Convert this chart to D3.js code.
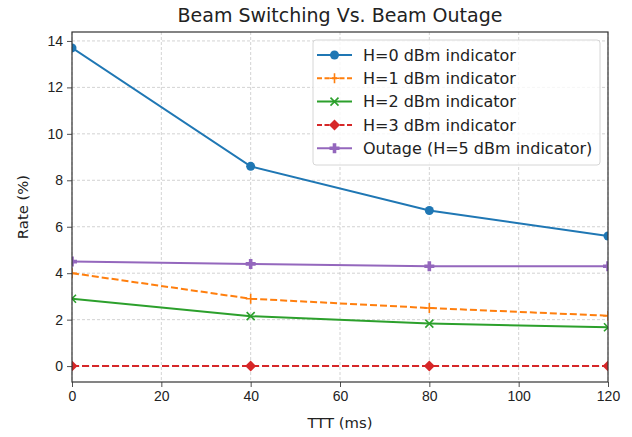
<!DOCTYPE html>
<html lang="en">
<head>
  <meta charset="UTF-8">
  <title>Beam Switching Vs. Beam Outage</title>
  <script src="https://d3js.org/d3.v7.min.js"></script>
  <style>
    body { margin: 0; background: #fff; }
    svg { display: block; font-family: "DejaVu Sans", sans-serif; }
    .tick text { font-size: 14px; fill: #222; }
    .grid line { stroke: #c8c8c8; stroke-width: 0.8px; stroke-dasharray: 3 2; }
  </style>
</head>
<body>
  <svg width="632" height="437"></svg>

  <script>
    // values
    const tttValues = [0, 40, 80, 120];
    const xTicks = [0, 20, 40, 60, 80, 100, 120];
    const yTicks = [0, 2, 4, 6, 8, 10, 12, 14];

    const h0Rate = [13.7, 8.6, 6.7, 5.6];
    const h1Rate = [4.0, 2.9, 2.5, 2.17];
    const h2Rate = [2.9, 2.15, 1.83, 1.67];
    const h3Rate = [0, 0, 0, 0];
    const outageRate = [4.5, 4.4, 4.3, 4.3];

    const seriesNames = ['H=0 dBm indicator', 'H=1 dBm indicator', 'H=2 dBm indicator',
                         'H=3 dBm indicator', 'Outage (H=5 dBm indicator)'];

    const series = [
      { name: seriesNames[0], values: h0Rate, color: '#1f77b4', dash: null, marker: 'circle' },
      { name: seriesNames[1], values: h1Rate, color: '#ff7f0e', dash: '7 3', marker: 'plus' },
      { name: seriesNames[2], values: h2Rate, color: '#2ca02c', dash: null, marker: 'x' },
      { name: seriesNames[3], values: h3Rate, color: '#d62728', dash: '7 3', marker: 'diamond' },
      { name: seriesNames[4], values: outageRate, color: '#9467bd', dash: null, marker: 'fatplus' }
    ];

    const margin = { top: 32, right: 24, bottom: 55, left: 72 };
    const width = 632 - margin.left - margin.right;
    const height = 437 - margin.top - margin.bottom;

    const svg = d3.select('svg');
    const g = svg.append('g').attr('transform', `translate(${margin.left},${margin.top})`);

    const allVals = series.flatMap(s => s.values);
    const yMin = d3.min(allVals), yMax = d3.max(allVals);
    const pad = (yMax - yMin) * 0.05;

    const x = d3.scaleLinear().domain([0, 120]).range([0, width]);
    const y = d3.scaleLinear().domain([yMin - pad, yMax + pad]).range([height, 0]);

    // grid
    g.append('g').attr('class', 'grid')
      .selectAll('line').data(xTicks).join('line')
      .attr('x1', d => x(d)).attr('x2', d => x(d)).attr('y1', 0).attr('y2', height);
    g.append('g').attr('class', 'grid')
      .selectAll('line').data(yTicks).join('line')
      .attr('y1', d => y(d)).attr('y2', d => y(d)).attr('x1', 0).attr('x2', width);

    // clip for the lines and markers
    svg.append('defs').append('clipPath').attr('id', 'plot-clip')
      .append('rect').attr('width', width).attr('height', height);

    const plot = g.append('g').attr('clip-path', 'url(#plot-clip)');

    const line = d3.line().x((d, i) => x(tttValues[i])).y(d => y(d));

    function drawMarker(sel, type, color) {
      if (type === 'circle') {
        sel.append('circle').attr('r', 4.5).attr('fill', color);
      } else if (type === 'plus') {
        sel.append('path').attr('d', 'M-5,0H5M0,-5V5').attr('stroke', color).attr('stroke-width', 1.6).attr('fill', 'none');
      } else if (type === 'x') {
        sel.append('path').attr('d', 'M-4,-4L4,4M-4,4L4,-4').attr('stroke', color).attr('stroke-width', 1.6).attr('fill', 'none');
      } else if (type === 'diamond') {
        sel.append('path').attr('d', 'M0,-5.5L5.5,0L0,5.5L-5.5,0Z').attr('fill', color);
      } else if (type === 'fatplus') {
        sel.append('path').attr('d', 'M-1.8,-5H1.8V-1.8H5V1.8H1.8V5H-1.8V1.8H-5V-1.8H-1.8Z').attr('fill', color);
      }
    }

    series.forEach(s => {
      plot.append('path')
        .datum(s.values)
        .attr('fill', 'none')
        .attr('stroke', s.color)
        .attr('stroke-width', 2)
        .attr('stroke-dasharray', s.dash)
        .attr('d', line);
      s.values.forEach((v, i) => {
        const m = plot.append('g').attr('transform', `translate(${x(tttValues[i])},${y(v)})`);
        drawMarker(m, s.marker, s.color);
      });
    });

    // axes
    const xAxis = g.append('g').attr('transform', `translate(0,${height})`)
      .call(d3.axisBottom(x).tickValues(xTicks).tickSize(5).tickPadding(4));
    const yAxis = g.append('g')
      .call(d3.axisLeft(y).tickValues(yTicks).tickSize(5).tickPadding(4));
    [xAxis, yAxis].forEach(a => {
      a.select('.domain').remove();
      a.selectAll('.tick line').attr('stroke', '#222').attr('stroke-width', 0.8);
    });

    // frame
    g.append('rect').attr('width', width).attr('height', height)
      .attr('fill', 'none').attr('stroke', '#333').attr('stroke-width', 1.2);

    // labels
    svg.append('text')
      .attr('x', margin.left + width / 2).attr('y', 22)
      .attr('text-anchor', 'middle').attr('font-size', 19).attr('fill', '#222')
      .text('Beam Switching Vs. Beam Outage');

    svg.append('text')
      .attr('x', margin.left + width / 2).attr('y', 428)
      .attr('text-anchor', 'middle').attr('font-size', 14.8).attr('fill', '#222')
      .text('TTT (ms)');

    svg.append('text')
      .attr('transform', `translate(28,${margin.top + height / 2}) rotate(-90)`)
      .attr('text-anchor', 'middle').attr('font-size', 14.8).attr('fill', '#222')
      .text('Rate (%)');

    // legend
    const legend = svg.append('g').attr('transform', 'translate(313,40)');
    legend.append('rect').attr('width', 287).attr('height', 125).attr('rx', 3)
      .attr('fill', 'rgba(255,255,255,0.8)').attr('stroke', '#d6d6d6');
    series.forEach((s, i) => {
      const row = legend.append('g').attr('transform', `translate(0,${15 + i * 23.3})`);
      row.append('line').attr('x1', 4).attr('x2', 39).attr('stroke', s.color)
        .attr('stroke-width', 2).attr('stroke-dasharray', s.dash ? '5 2.5' : null);
      drawMarker(row.append('g').attr('transform', 'translate(21.5,0)'), s.marker, s.color);
      row.append('text').attr('x', 50).attr('y', 5.8).attr('font-size', 16).attr('fill', '#222').text(s.name);
    });
  </script>
</body>
</html>
